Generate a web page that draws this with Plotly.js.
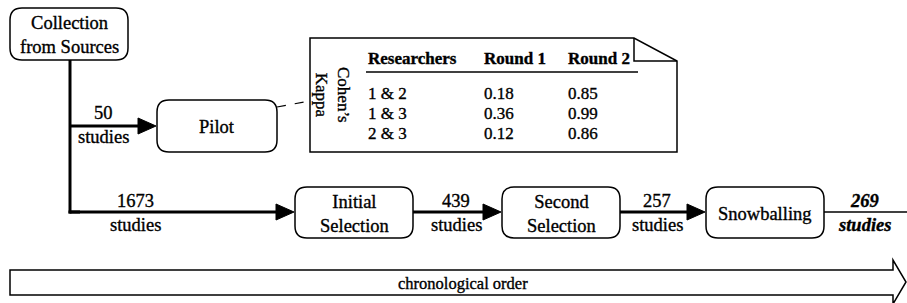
<!DOCTYPE html>
<html>
<head>
<meta charset="utf-8">
<script src="https://cdn.plot.ly/plotly-3.0.1.min.js"></script>
<style>
html,body{margin:0;padding:0;background:#fff;}
#chart{width:907px;height:303px;}
#chart .annotation-text{stroke:#000;stroke-width:0.35px;}
</style>
</head>
<body>
<div id="chart"></div>
<script>
// ---- data ----
const stages = ["Collection<br>from Sources", "Pilot", "Initial<br>Selection", "Second<br>Selection", "Snowballing"];
const flowCounts = [50, 1673, 439, 257, 269];
const flowUnit = "studies";
const tableHeader = ["Researchers", "Round 1", "Round 2"];
const researchers = ["1 & 2", "1 & 3", "2 & 3"];
const round1 = [0.18, 0.36, 0.12];
const round2 = [0.85, 0.99, 0.86];
const tableTitle = "Cohen’s<br>Kappa";
const timeLabel = "chronological order";

// ---- layout geometry (pixels) ----
const boxes = [
  {x0: 10, x1: 128, y0: 8, y1: 60},
  {x0: 157, x1: 277, y0: 100, y1: 152},
  {x0: 295, x1: 413, y0: 187, y1: 238},
  {x0: 502, x1: 620, y0: 187, y1: 238},
  {x0: 706, x1: 824, y0: 187, y1: 238}
];
const FONT = "Liberation Serif";
const shapes = [];
const ann = [];

function rrect(b, r) {
  const {x0, x1, y0, y1} = b;
  return `M${x0 + r},${y0} L${x1 - r},${y0} Q${x1},${y0} ${x1},${y0 + r} L${x1},${y1 - r} Q${x1},${y1} ${x1 - r},${y1} L${x0 + r},${y1} Q${x0},${y1} ${x0},${y1 - r} L${x0},${y0 + r} Q${x0},${y0} ${x0 + r},${y0} Z`;
}
boxes.forEach((b, i) => {
  shapes.push({type: "path", path: rrect(b, 12), line: {color: "#000", width: 1.5}, fillcolor: "rgba(0,0,0,0)"});
  ann.push({x: (b.x0 + b.x1) / 2, y: (b.y0 + b.y1) / 2 + 1, text: stages[i], showarrow: false,
    font: {family: FONT, size: 18.5, color: "#000"}, xanchor: "center", yanchor: "middle"});
});

function line(x0, y0, x1, y1, w, dash) {
  shapes.push({type: "line", x0, y0, x1, y1, line: {color: "#000", width: w, dash: dash || "solid"}});
}
function arrow(x0, y, xt) {
  const L = 18, H = 8;
  line(x0, y, xt - L + 1, y, 3);
  shapes.push({type: "path", path: `M${xt - L},${y - H} L${xt},${y} L${xt - L},${y + H} Z`,
    fillcolor: "#000", line: {color: "#000", width: 1}});
}
// trunk
line(70, 60, 70, 213.5, 3);
line(68.5, 212, 80, 212, 3);
arrow(70, 126, 156);
arrow(70, 212, 294);
arrow(413, 212, 501);
arrow(620, 212, 705);
line(824, 212, 907, 212, 1.5);

function countLabel(x, yTop, n, bold) {
  const t = bold ? `<b><i>${n}</i></b>` : `${n}`;
  const u = bold ? `<b><i>${flowUnit}</i></b>` : flowUnit;
  ann.push({x, y: yTop, text: t, showarrow: false, font: {family: FONT, size: 18.5, color: "#000"}, xanchor: "center", yanchor: "middle"});
  ann.push({x, y: yTop + 24, text: u, showarrow: false, font: {family: FONT, size: 18.5, color: "#000"}, xanchor: "center", yanchor: "middle"});
}
countLabel(103, 113, flowCounts[0]);
countLabel(135, 201, flowCounts[1]);
countLabel(456, 201, flowCounts[2]);
countLabel(657, 201, flowCounts[3]);
countLabel(864, 201, flowCounts[4], true);

// dashed connector
line(277, 107, 310, 101, 1.2, "dash");

// note box with folded corner
shapes.push({type: "path", path: "M310,38 L634,38 L677,61 L677,152 L310,152 Z", line: {color: "#000", width: 1.5}, fillcolor: "rgba(0,0,0,0)"});
shapes.push({type: "path", path: "M634,38 L634,61 L677,61", line: {color: "#000", width: 1.5}});
ann.push({x: 333, y: 95, text: tableTitle, textangle: 90, showarrow: false,
  font: {family: FONT, size: 17, color: "#000"}, xanchor: "center", yanchor: "middle"});
const colX = [366, 482, 566];
tableHeader.forEach((h, j) => ann.push({x: colX[j], y: 58, text: `<b>${h}</b>`, showarrow: false,
  font: {family: FONT, size: 17, color: "#000"}, xanchor: "left", yanchor: "middle"}));
line(366, 72, 638, 72, 1.5);
const rowY = [93, 113, 133];
researchers.forEach((r, i) => {
  [r, round1[i].toFixed(2), round2[i].toFixed(2)].forEach((v, j) => ann.push({x: colX[j], y: rowY[i], text: v,
    showarrow: false, font: {family: FONT, size: 17, color: "#000"}, xanchor: "left", yanchor: "middle"}));
});

// chronological order arrow
shapes.push({type: "path", path: "M10,270 L893,270 L893,260 L906,282 L893,304 L893,295 L10,295 Z",
  line: {color: "#000", width: 1.5}, fillcolor: "rgba(0,0,0,0)"});
ann.push({x: 463, y: 283, text: timeLabel, showarrow: false, font: {family: FONT, size: 16.5, color: "#000"},
  xanchor: "center", yanchor: "middle"});

const layout = {
  width: 907, height: 303,
  margin: {l: 0, r: 0, t: 0, b: 0},
  paper_bgcolor: "#fff", plot_bgcolor: "#fff",
  font: {family: FONT},
  xaxis: {range: [0, 907], visible: false, fixedrange: true},
  yaxis: {range: [303, 0], visible: false, fixedrange: true},
  showlegend: false,
  shapes, annotations: ann
};
Plotly.newPlot("chart", [{x: [], y: [], type: "scatter"}], layout, {staticPlot: true, displayModeBar: false});
</script>
</body>
</html>
